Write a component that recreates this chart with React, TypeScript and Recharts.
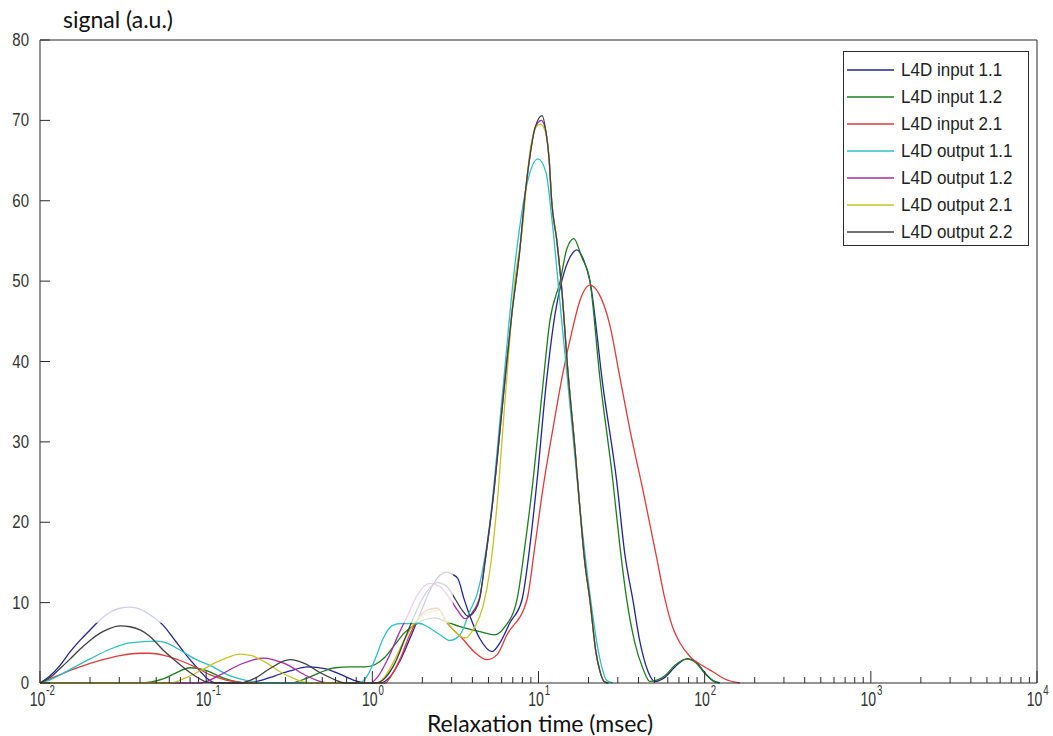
import React from 'react';
import { LineChart, Line, XAxis, YAxis, ReferenceArea } from 'recharts';

// relaxation time (msec) , signal (a.u.)
const input11: [number, number][] = [
  [0.01, 0], [0.0115, 0.9], [0.0132, 2.2], [0.0152, 3.9], [0.0174, 5.3], [0.02, 6.6], [0.0223, 7.6],
  [0.0264, 8.8], [0.0303, 9.3], [0.0348, 9.45], [0.04, 9.2], [0.0459, 8.5], [0.055, 7.2], [0.0649, 5.3],
  [0.0799, 2.9], [0.0918, 1.5], [0.101, 0.6], [0.113, 0.05], [0.171, 0], [0.211, 0.3], [0.26, 0.9],
  [0.319, 1.5], [0.41, 2.0], [0.518, 1.8], [0.638, 1.1], [0.786, 0.3], [0.902, 0], [1.11, 0],
  [1.28, 0.8], [1.47, 2.8], [1.68, 5.5], [1.93, 8.5], [2.22, 11.5], [2.55, 13.4], [2.81, 13.8],
  [3.04, 13.5], [3.27, 13.0], [3.56, 10.5], [3.87, 8.3], [4.44, 5.5], [5.25, 3.9], [5.86, 5.0],
  [6.73, 7.5], [7.94, 10.3], [8.87, 17], [9.78, 25], [11.1, 37], [12.6, 46], [13.8, 50], [15.5, 53],
  [17.0, 53.9], [18.8, 52.5], [20.4, 50], [24.4, 37], [29.6, 25], [33.1, 16], [37.0, 10.3],
  [40.7, 5.2], [45.5, 1.5], [50.1, 0.2], [57.6, 0.7], [66.2, 2.0], [78.2, 3.0], [89.8, 2.5],
  [100, 1.3], [112, 0.3], [123, 0],
];

const input12: [number, number][] = [
  [0.01, 0], [0.04, 0], [0.0459, 0.1], [0.055, 0.5], [0.0649, 1.2], [0.0799, 1.9], [0.0985, 1.6],
  [0.121, 0.8], [0.149, 0.2], [0.171, 0], [0.319, 0], [0.393, 0.5], [0.484, 1.3], [0.596, 1.9],
  [0.734, 2.0], [0.902, 2.0], [1.04, 2.3], [1.19, 3.2], [1.37, 4.8], [1.57, 6.3], [1.8, 7.2],
  [2.07, 7.9], [2.38, 8.1], [2.73, 7.7], [3.37, 7.0], [4.44, 6.4], [5.47, 6.0], [6.28, 7.0],
  [7.41, 10.3], [8.28, 17], [9.25, 25], [10.5, 36], [11.7, 45], [13.5, 50], [14.8, 54], [16.3, 55.3],
  [18.2, 53], [20.4, 50], [23.4, 38], [28.0, 25.2], [30.9, 17], [34.0, 10.3], [38.0, 5],
  [42.5, 1.8], [46.8, 0.2], [57.6, 0.9], [66.2, 2.2], [78.2, 3.0], [89.8, 2.4], [100, 1.2],
  [112, 0.3], [123, 0],
];

const input21: [number, number][] = [
  [0.01, 0], [0.0115, 0.5], [0.0141, 1.3], [0.0174, 2.0], [0.023, 2.8], [0.0303, 3.4], [0.04, 3.7],
  [0.0459, 3.7], [0.0565, 3.4], [0.0695, 2.8], [0.0857, 2.0], [0.106, 1.0], [0.13, 0.4], [0.16, 0.1],
  [0.184, 0], [1.19, 0], [1.31, 1.0], [1.47, 3.0], [1.68, 6.0], [1.93, 8.3], [2.22, 9.2],
  [2.46, 9.3], [2.81, 7.5], [3.46, 5.6], [4.14, 3.8], [4.89, 2.9], [5.62, 3.5], [6.46, 6],
  [8.51, 10.3], [9.51, 17], [10.6, 24], [12.3, 32], [14.0, 38.5], [16.0, 44], [17.7, 47.5],
  [20.4, 49.5], [23.0, 48.5], [26.9, 44.5], [30.9, 38], [35.5, 31.5], [42.5, 24], [51.5, 15.5],
  [57.6, 10.5], [64.0, 7.0], [70.9, 5.0], [81.5, 3.3], [100, 2.0], [112, 1.4], [132, 0.5], [163, 0],
];

const output11: [number, number][] = [
  [0.01, 0], [0.0115, 0.4], [0.0132, 1.0], [0.0162, 2.0], [0.02, 3.0], [0.0264, 4.2], [0.0348, 5.0],
  [0.0506, 5.2], [0.0605, 4.8], [0.0695, 4.1], [0.0857, 3.0], [0.11, 2.0], [0.135, 1.0], [0.16, 0.5],
  [0.197, 0.1], [0.227, 0], [0.842, 0], [0.94, 1.0], [1.04, 3.0], [1.16, 5.5], [1.31, 7.1],
  [1.47, 7.4], [1.93, 7.4], [2.15, 7.0], [2.55, 6.0], [2.93, 5.3], [3.37, 6.0], [3.87, 9],
  [4.26, 11], [5.1, 20], [6.02, 35.2], [7.21, 52], [8.51, 62], [9.91, 65.2], [11.1, 63.5],
  [12.0, 58], [13.8, 45], [15.9, 32], [17.7, 22], [20.4, 11], [22.9, 4], [25.8, 0.3], [28.0, 0],
];

const output12: [number, number][] = [
  [0.01, 0], [0.0918, 0], [0.121, 1.0], [0.16, 2.3], [0.22, 3.1], [0.298, 2.4], [0.393, 1.0],
  [0.484, 0.2], [0.556, 0], [0.967, 0], [1.08, 0.8], [1.24, 3.0], [1.42, 5.8], [1.64, 8.5],
  [1.87, 11], [2.22, 12.4], [2.55, 12.0], [2.93, 10.5], [3.27, 9.0], [3.61, 8.0], [3.97, 8.7],
  [4.44, 10.8], [4.76, 15], [5.32, 22.8], [6.11, 35.2], [6.92, 46], [7.73, 54], [8.28, 60.5],
  [8.87, 65.5], [9.51, 69], [10.4, 70.0], [11.1, 68.5], [11.6, 65], [12.0, 60], [12.9, 55],
  [13.8, 49], [15.0, 39], [16.6, 29], [17.7, 22], [19.0, 15], [20.4, 10.3], [22.1, 4], [23.4, 1.5],
  [24.8, 0.2], [26.3, 0],
];

const output21: [number, number][] = [
  [0.01, 0], [0.0605, 0], [0.0746, 0.6], [0.0918, 1.5], [0.113, 2.5], [0.135, 3.2], [0.16, 3.6],
  [0.188, 3.4], [0.227, 2.6], [0.278, 1.4], [0.342, 0.5], [0.393, 0.1], [0.451, 0], [1.08, 0],
  [1.19, 0.8], [1.37, 3.0], [1.57, 5.5], [1.8, 7.5], [2.15, 8.8], [2.55, 9.0], [2.81, 7.6],
  [3.14, 6.4], [3.61, 5.6], [4.14, 7], [4.63, 9.5], [5.1, 14], [5.62, 22], [6.28, 35], [7.21, 50],
  [7.94, 56], [8.87, 66], [9.78, 69.3], [10.3, 69.5], [11.1, 68.3], [11.6, 65], [12.0, 60],
  [12.9, 55], [13.8, 49], [15.0, 39], [16.6, 29], [17.7, 22], [19.0, 15], [20.4, 10.3], [22.1, 4],
  [23.4, 1.5], [24.8, 0.2], [26.3, 0],
];

const output22: [number, number][] = [
  [0.01, 0], [0.0115, 0.7], [0.0132, 1.8], [0.0152, 3.0], [0.0174, 4.2], [0.02, 5.3], [0.023, 6.2],
  [0.0264, 6.8], [0.0303, 7.1], [0.0348, 7.0], [0.04, 6.6], [0.0459, 5.8], [0.055, 4.1],
  [0.0649, 2.8], [0.0799, 1.3], [0.0918, 0.5], [0.101, 0.1], [0.113, 0], [0.16, 0], [0.197, 0.6],
  [0.242, 1.8], [0.319, 2.9], [0.393, 2.4], [0.484, 1.3], [0.596, 0.4], [0.684, 0], [1.04, 0],
  [1.19, 0.6], [1.37, 2.5], [1.57, 5.5], [1.8, 8.5], [2.07, 11], [2.46, 12.5], [2.81, 12.0],
  [3.14, 10.5], [3.49, 9.0], [3.76, 8.3], [4.14, 9.0], [4.44, 10.6], [4.76, 15], [5.32, 22.8],
  [6.11, 35.2], [6.92, 46], [7.73, 54], [8.28, 60.5], [8.87, 65.5], [9.51, 69], [10.5, 70.6],
  [11.1, 68.5], [11.6, 65], [12.0, 60], [12.9, 55], [13.8, 49], [15.0, 39], [16.6, 29], [17.7, 22],
  [19.0, 15], [20.4, 10.3], [22.1, 4], [23.4, 1.5], [24.8, 0.2], [26.3, 0],
];

const seriesNames = [
  'L4D input 1.1', 'L4D input 1.2', 'L4D input 2.1',
  'L4D output 1.1', 'L4D output 1.2', 'L4D output 2.1', 'L4D output 2.2',
];
const seriesData = [input11, input12, input21, output11, output12, output21, output22];
const seriesColors = ['#23239a', '#1d7d1d', '#e03a3a', '#2cc0c0', '#a82aa8', '#c4c424', '#404040'];

const yTicks = [0, 10, 20, 30, 40, 50, 60, 70, 80];
const decades = [-2, -1, 0, 1, 2, 3, 4];

const xTicks: number[] = [];
decades.forEach((e) => {
  xTicks.push(Math.pow(10, e));
  if (e < 4) for (let m = 2; m <= 9; m++) xTicks.push(m * Math.pow(10, e));
});

const AXIS = '#2a2a2a';
const TXT = '#333';

const isMajor = (v: number) => {
  const e = Math.log10(v);
  return Math.abs(e - Math.round(e)) < 1e-6;
};

const BottomTick = ({ x, y, payload }: any) => {
  const major = isMajor(payload.value);
  const e = Math.round(Math.log10(payload.value));
  return (
    <g>
      <line x1={x} x2={x} y1={y} y2={y - (major ? 12 : 6)} stroke={AXIS} />
      {major && (
        <g transform={`translate(${x},${y}) scale(0.88,1.25)`}>
          <text x={6} y={18.5} textAnchor="end" fontSize={16} fill={TXT} fontFamily="Liberation Sans, Arial">
            10
          </text>
          <text x={7} y={9.5} textAnchor="start" fontSize={11} fill={TXT} fontFamily="Liberation Sans, Arial">
            {e}
          </text>
        </g>
      )}
    </g>
  );
};

const TopTick = ({ x, y, payload }: any) => {
  const major = isMajor(payload.value);
  return <line x1={x} x2={x} y1={y} y2={y + (major ? 12 : 6)} stroke={AXIS} />;
};

const LeftTick = ({ x, y, payload }: any) => (
  <g>
    <line x1={x} x2={x + 10} y1={y} y2={y} stroke={AXIS} />
    <g transform={`translate(${x - 11},${y}) scale(1,1.2)`}>
      <text x={0} y={5} textAnchor="end" fontSize={15} fill={TXT} fontFamily="Liberation Sans, Arial">
        {payload.value}
      </text>
    </g>
  </g>
);

const RightTick = ({ x, y }: any) => <line x1={x} x2={x - 10} y1={y} y2={y} stroke={AXIS} />;

const toPts = (arr: [number, number][]) => arr.map(([t, v]) => ({ t, v }));

export default function App() {
  return (
    <div style={{ position: 'absolute', left: 0, top: 0, width: 1053, height: 736, background: '#fff' }}>
      <LineChart width={1053} height={736} margin={{ top: 39, right: 15, bottom: 3, left: 10 }}>
        <XAxis
          xAxisId="bottom"
          dataKey="t"
          type="number"
          scale="log"
          domain={[0.01, 10000]}
          allowDataOverflow
          ticks={xTicks}
          interval={0}
          height={50}
          tickSize={0}
          tickMargin={0}
          tickLine={false}
          axisLine={{ stroke: AXIS }}
          tick={<BottomTick />}
        />
        <XAxis
          xAxisId="top"
          orientation="top"
          type="number"
          scale="log"
          domain={[0.01, 10000]}
          allowDataOverflow
          ticks={xTicks}
          interval={0}
          height={1}
          tickSize={0}
          tickMargin={0}
          tickLine={false}
          axisLine={{ stroke: AXIS }}
          tick={<TopTick />}
        />
        <YAxis
          yAxisId="left"
          type="number"
          domain={[0, 80]}
          ticks={yTicks}
          interval={0}
          width={30}
          tickSize={0}
          tickMargin={0}
          tickLine={false}
          axisLine={{ stroke: AXIS }}
          tick={<LeftTick />}
        />
        <YAxis
          yAxisId="right"
          orientation="right"
          type="number"
          domain={[0, 80]}
          ticks={yTicks}
          interval={0}
          width={1}
          tickSize={0}
          tickMargin={0}
          tickLine={false}
          axisLine={{ stroke: AXIS }}
          tick={<RightTick />}
        />
        {seriesData.map((d, i) => (
          <Line
            key={seriesNames[i]}
            xAxisId="bottom"
            yAxisId="left"
            data={toPts(d)}
            dataKey="v"
            name={seriesNames[i]}
            type="monotone"
            stroke={seriesColors[i]}
            strokeWidth={1.3}
            dot={false}
            isAnimationActive={false}
          />
        ))}
        {/* the faded part of the low-time humps */}
        <ReferenceArea
          xAxisId="bottom"
          yAxisId="left"
          x1={0.01}
          x2={3.05}
          y1={7.5}
          y2={80}
          fill="#ffffff"
          fillOpacity={0.78}
          stroke="none"
          ifOverflow="hidden"
          zIndex={450}
        />
      </LineChart>

      <div style={{ position: 'absolute', left: 63, top: 8, fontFamily: 'Lato', fontSize: 23, lineHeight: '23px', color: '#111' }}>
        signal (a.u.)
      </div>
      <div
        style={{
          position: 'absolute',
          left: 0,
          width: 1080,
          top: 712,
          textAlign: 'center',
          fontFamily: 'Lato',
          fontSize: 23,
          lineHeight: '22px',
          color: '#111',
        }}
      >
        Relaxation time (msec)
      </div>

      {/* legend */}
      <div
        style={{
          position: 'absolute',
          left: 843,
          top: 51,
          width: 186,
          height: 195,
          border: `1px solid ${AXIS}`,
          background: '#fff',
          boxSizing: 'border-box',
          paddingTop: 4,
        }}
      >
        {seriesNames.map((n, i) => (
          <div key={n} style={{ display: 'flex', alignItems: 'center', height: 27 }}>
            <svg width={50} height={4} style={{ display: 'block' }}>
              <line x1={3} x2={50} y1={2} y2={2} stroke={seriesColors[i]} strokeWidth={1.5} />
            </svg>
            <span style={{ marginLeft: 7, fontFamily: 'Liberation Sans, Arial', fontSize: 17, color: '#222', transform: 'scaleY(1.1)' }}>
              {n}
            </span>
          </div>
        ))}
      </div>
    </div>
  );
}
